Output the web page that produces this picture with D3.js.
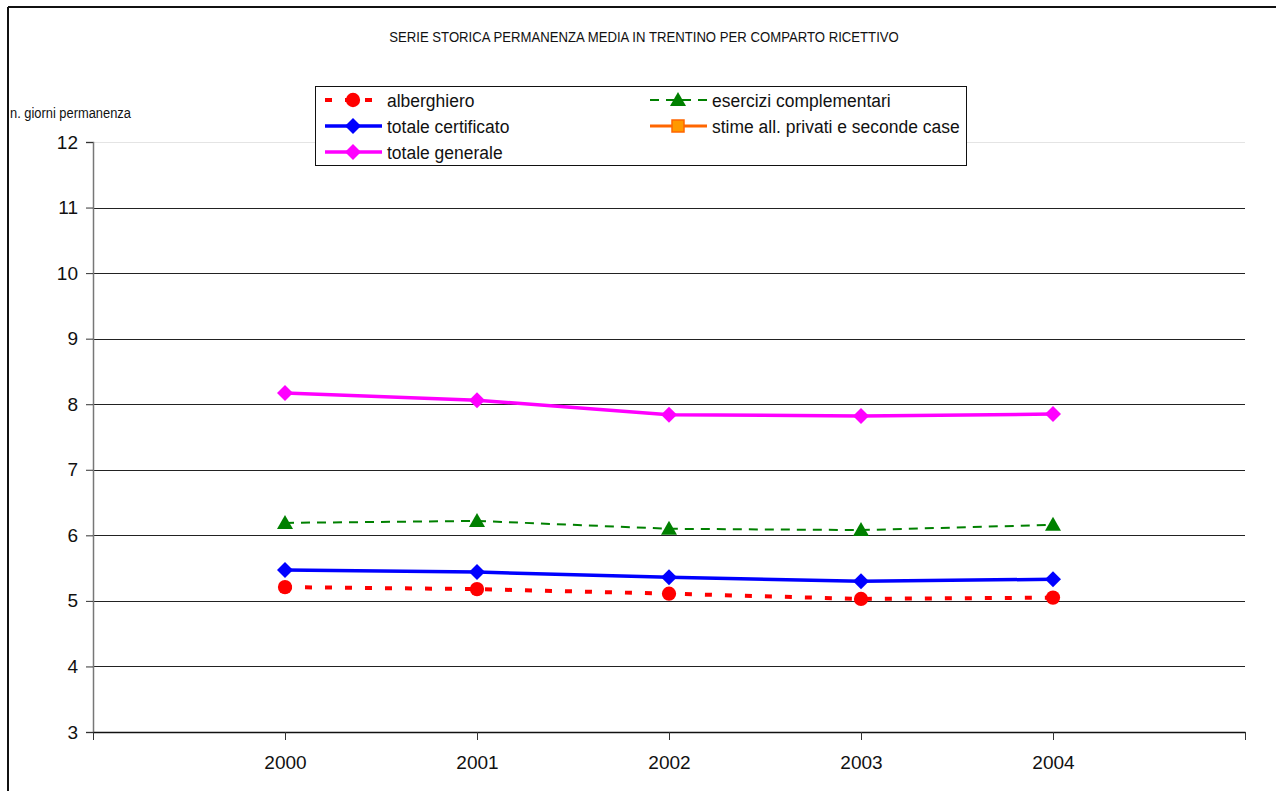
<!DOCTYPE html>
<html>
<head>
<meta charset="utf-8">
<script src="https://cdn.jsdelivr.net/npm/d3@7"></script>
<style>
  html, body { margin: 0; padding: 0; background: #fff; }
  svg { display: block; }
  text { font-family: "Liberation Sans Narrow", "Arial Narrow", "Liberation Sans", Arial, sans-serif; }
</style>
</head>
<body>
<svg id="chart" width="1276" height="791"></svg>
<script>
// Average length of stay in Trentino by accommodation sector
const years = [2000, 2001, 2002, 2003, 2004];
const alberghiero = [5.21, 5.18, 5.11, 5.03, 5.05];
const eserciziComplementari = [6.19, 6.22, 6.10, 6.08, 6.16];
const totaleCertificato = [5.47, 5.44, 5.36, 5.30, 5.33];
const stimePrivati = [null, null, null, null, null];
const totaleGenerale = [8.17, 8.06, 7.84, 7.82, 7.85];
const yTicks = [3, 4, 5, 6, 7, 8, 9, 10, 11, 12];

(function () {
const svg = d3.select("#chart");
const W = 1276, H = 791;

// condensed text: regular face squeezed horizontally
function label(parent, x, y, str, size, sx, anchor) {
  return parent.append("text")
    .attr("transform", `translate(${x},${y}) scale(${sx},1)`)
    .attr("text-anchor", anchor || "start")
    .attr("font-size", size).attr("fill", "#111").text(str);
}

// outer frame of the chart object
svg.append("line").attr("x1", 8).attr("x2", W).attr("y1", 7).attr("y2", 7)
  .attr("stroke", "#111").attr("stroke-width", 2);
svg.append("line").attr("x1", 8).attr("x2", 8).attr("y1", 7).attr("y2", H)
  .attr("stroke", "#111").attr("stroke-width", 2);

label(svg, 644, 42, "SERIE STORICA PERMANENZA MEDIA IN TRENTINO PER COMPARTO RICETTIVO", 14, 0.94, "middle");
label(svg, 10, 118, "n. giorni permanenza", 14, 0.92);

const plotLeft = 93, plotRight = 1245, plotTop = 142, plotBottom = 732;
const x = d3.scaleLinear().domain([1999, 2005]).range([plotLeft, plotRight]);
const y = d3.scaleLinear().domain([3, 12]).range([plotBottom, plotTop]);

// horizontal gridlines
svg.append("g").selectAll("line").data(yTicks.filter(t => t > 3)).join("line")
  .attr("x1", plotLeft).attr("x2", plotRight)
  .attr("y1", d => Math.round(y(d)) + 0.5).attr("y2", d => Math.round(y(d)) + 0.5)
  .attr("stroke", d => d === 12 ? "#e4e4e4" : "#222").attr("stroke-width", 1);

// y axis
const yAxis = svg.append("g").attr("transform", `translate(${plotLeft},0)`)
  .call(d3.axisLeft(y).tickValues(yTicks).tickSize(7).tickPadding(8));
yAxis.select(".domain").attr("stroke", "#777").attr("stroke-width", 1.5);
yAxis.selectAll(".tick line").attr("stroke", "#333");
yAxis.selectAll(".tick text").attr("font-size", 19).attr("fill", "#111")
  .style("font-family", '"Liberation Sans Narrow", "Arial Narrow", sans-serif');

// x axis
const xAxis = svg.append("g").attr("transform", `translate(0,${plotBottom})`)
  .call(d3.axisBottom(x).tickValues([1999, ...years, 2005]).tickSize(8).tickSizeOuter(0)
    .tickPadding(16).tickFormat(d => years.includes(d) ? String(d) : ""));
xAxis.select(".domain").attr("stroke", "#111").attr("stroke-width", 1.5);
xAxis.selectAll(".tick line").attr("stroke", "#333");
xAxis.selectAll(".tick text").attr("font-size", 19).attr("fill", "#111")
  .style("font-family", '"Liberation Sans Narrow", "Arial Narrow", sans-serif');

const series = [
  { name: "alberghiero", values: alberghiero, color: "#ff0000", width: 4, dash: "7,13", marker: "circle", fill: "#ff0000" },
  { name: "esercizi complementari", values: eserciziComplementari, color: "#008000", width: 2, dash: "9,7", marker: "triangle", fill: "#008000" },
  { name: "totale certificato", values: totaleCertificato, color: "#0000ff", width: 3.5, dash: null, marker: "diamond", fill: "#0000ff" },
  { name: "stime all. privati e seconde case", values: stimePrivati, color: "#ff6600", width: 3, dash: null, marker: "square", fill: "#ff9900" },
  { name: "totale generale", values: totaleGenerale, color: "#ff00ff", width: 3.5, dash: null, marker: "diamond", fill: "#ff00ff" }
];

function symbolPath(kind) {
  if (kind === "circle") return d3.symbol(d3.symbolCircle, 160)();
  if (kind === "triangle") return "M0,-8L8,6L-8,6Z";
  if (kind === "diamond") return "M0,-8L8,0L0,8L-8,0Z";
  return "M-6,-6H6V6H-6Z";
}

const line = d3.line().defined(d => d.v != null).x(d => x(d.year)).y(d => y(d.v));

const plot = svg.append("g");
series.forEach(s => {
  const pts = years.map((yr, i) => ({ year: yr, v: s.values[i] }));
  plot.append("path").datum(pts).attr("d", line)
    .attr("fill", "none").attr("stroke", s.color).attr("stroke-width", s.width)
    .attr("stroke-dasharray", s.dash);
  plot.append("g").selectAll("path").data(pts.filter(d => d.v != null)).join("path")
    .attr("transform", d => `translate(${x(d.year)},${y(d.v)})`)
    .attr("d", symbolPath(s.marker))
    .attr("fill", s.fill)
    .attr("stroke", s.marker === "square" ? s.color : "none").attr("stroke-width", 1.5);
});

// legend
const legend = svg.append("g");
legend.append("rect").attr("x", 315.5).attr("y", 86.5).attr("width", 651).attr("height", 79)
  .attr("fill", "#fff").attr("stroke", "#111").attr("stroke-width", 1);
const slots = [
  { s: 0, lx: 325, ty: 100 }, { s: 1, lx: 650, ty: 100 },
  { s: 2, lx: 325, ty: 126 }, { s: 3, lx: 650, ty: 126 },
  { s: 4, lx: 325, ty: 152 }
];
slots.forEach(p => {
  const s = series[p.s];
  const g = legend.append("g");
  g.append("line").attr("x1", p.lx).attr("x2", p.lx + 57).attr("y1", p.ty).attr("y2", p.ty)
    .attr("stroke", s.color).attr("stroke-width", s.width)
    .attr("stroke-dasharray", s.dash);
  g.append("path").attr("transform", `translate(${p.lx + 28},${p.ty})`)
    .attr("d", symbolPath(s.marker)).attr("fill", s.fill)
    .attr("stroke", s.marker === "square" ? s.color : "none").attr("stroke-width", 1.5);
  label(g, p.lx + 62, p.ty + 7, s.name, 19, 0.92);
});
})();
</script>
</body>
</html>
